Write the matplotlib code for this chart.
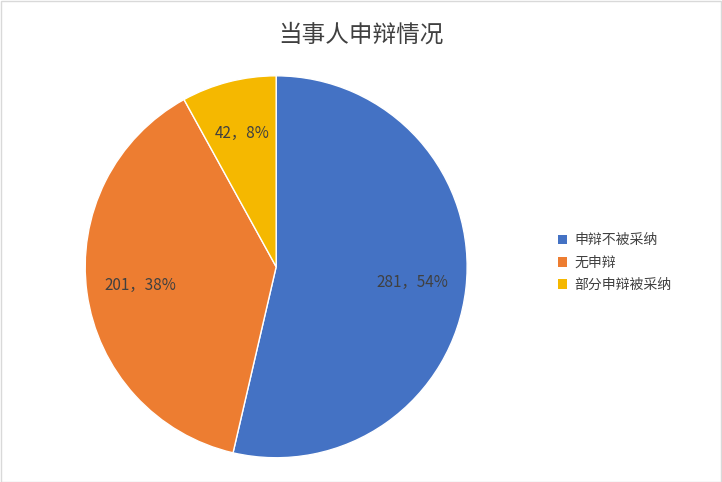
import numpy as np
import matplotlib.pyplot as plt
from matplotlib.patches import Patch

plt.rcParams['font.family'] = ['Noto Sans CJK SC', 'DejaVu Sans']

categories = ['申辩不被采纳', '无申辩', '部分申辩被采纳']
values = [281, 201, 42]
colors = ['#4472C4', '#ED7D31', '#F5B800']

fig = plt.figure(figsize=(7.22, 4.82), dpi=100)
fig.patches.append(plt.Rectangle((0.001, 0.001), 0.998, 0.997, transform=fig.transFigure,
                                 fill=False, edgecolor='#D9D9D9', linewidth=1))
ax = fig.add_axes([0.118, 0.050, 0.529, 0.793])

total = sum(values)
labels = [f'{v}，{round(v / total * 100)}%' for v in values]
wedges, texts = ax.pie(values, colors=colors, startangle=90, counterclock=False,
                       wedgeprops=dict(edgecolor='white', linewidth=1))
for w, lab in zip(wedges, labels):
    ang = np.deg2rad((w.theta1 + w.theta2) / 2)
    ax.text(0.72 * np.cos(ang), 0.72 * np.sin(ang), lab, ha='center', va='center',
            fontsize=11, color='#404040')
ax.set_xlim(-1, 1)
ax.set_ylim(-1, 1)
ax.set_aspect('equal')

fig.text(0.5, 0.927, '当事人申辩情况', ha='center', va='center', fontsize=17, color='#404040')

handles = [Patch(facecolor=c, edgecolor='none') for c in colors]
fig.legend(handles, categories, loc='center left', bbox_to_anchor=(0.755, 0.455),
           frameon=False, fontsize=10, handlelength=0.7, handleheight=0.7,
           labelspacing=0.6, handletextpad=0.5, labelcolor='#404040')

fig.savefig('out.png', dpi=100)
